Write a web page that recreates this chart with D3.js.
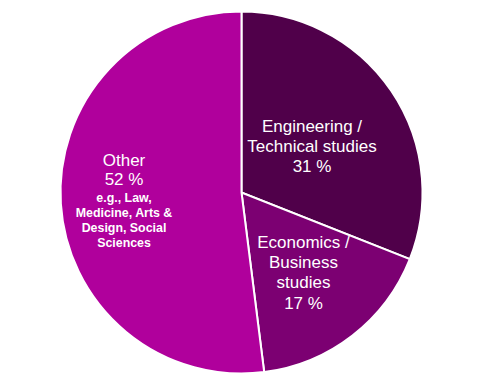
<!DOCTYPE html>
<html><head><meta charset="utf-8">
<script src="https://cdn.jsdelivr.net/npm/d3@7"></script>
<style>body{margin:0;background:#fff}svg{display:block}text{font-family:"Liberation Sans",Arial,sans-serif;fill:#fff}</style>
</head><body>
<script>
const categories = ["Engineering / Technical studies", "Economics / Business studies", "Other"];
const values = [31, 17, 52];
const colors = ["#50004a", "#7c0072", "#b0009c"];
const labelLines = [
  [["Engineering /",17,400],["Technical studies",17,400],["31 %",17,400]],
  [["Economics /",17,400],["Business",17,400],["studies",17,400],["17 %",17,400]],
  [["Other",17,400],["52 %",17,400],["e.g., Law,",12.4,700],["Medicine, Arts &",12.4,700],["Design, Social",12.4,700],["Sciences",12.4,700]]
];
const W=486,H=389,cx=241.5,cy=192.5,R=181;
const svg=d3.select("body").append("svg").attr("width",W).attr("height",H);
const g=svg.append("g").attr("transform",`translate(${cx},${cy})`);
const pie=d3.pie().sort(null).value(d=>d)(values);
const arc=d3.arc().innerRadius(0).outerRadius(R);
g.selectAll("path").data(pie).join("path").attr("d",arc).attr("fill",(d,i)=>colors[i]).attr("stroke","#fff").attr("stroke-width",2);
const labelPos=[[70.5,-60.5],[62,55.5],[-117.5,-26.5]];
const lineYs=[[0,20,40],[0,20,40,61],[0,19,36,51,66,81]];
pie.forEach((d,i)=>{
  const t=g.append("text").attr("text-anchor","middle");
  labelLines[i].forEach((l,j)=>{
    t.append("tspan").attr("x",labelPos[i][0]).attr("y",labelPos[i][1]+lineYs[i][j]).attr("font-size",l[1]).attr("font-weight",l[2]).text(l[0]);
  });
});
</script>
</body></html>
